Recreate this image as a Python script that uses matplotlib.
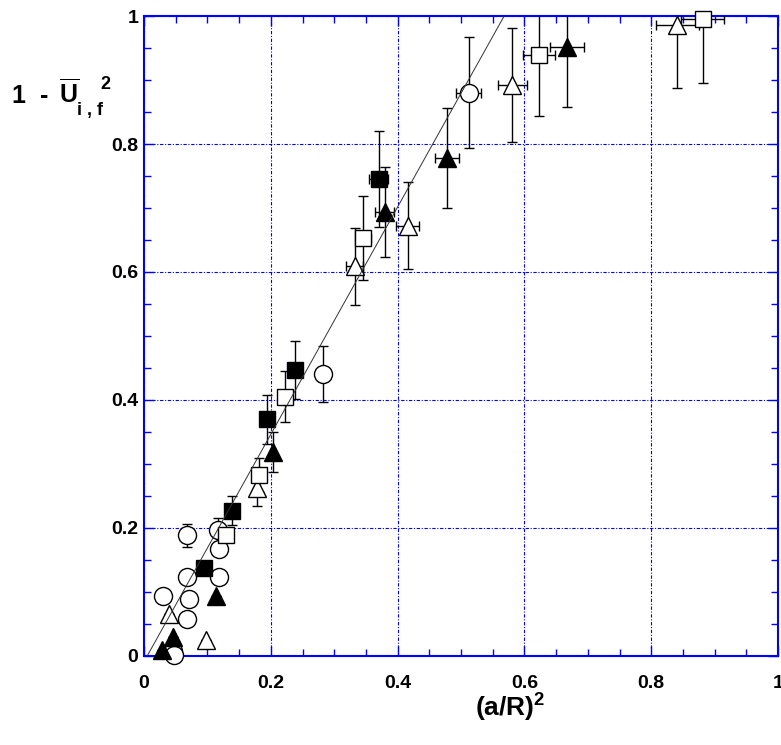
import numpy as np
import matplotlib
matplotlib.use('Agg')
import matplotlib.pyplot as plt
from matplotlib.ticker import MultipleLocator

plt.rcParams['font.family'] = 'Liberation Sans'
plt.rcParams['font.weight'] = 'bold'
plt.rcParams['mathtext.fontset'] = 'custom'
plt.rcParams['mathtext.rm'] = 'Liberation Sans:bold'
plt.rcParams['mathtext.it'] = 'Liberation Sans:bold'
plt.rcParams['mathtext.bf'] = 'Liberation Sans:bold'

# --- data ---
# open circles
oc_x = [0.030, 0.068, 0.117, 0.118, 0.068, 0.118, 0.071, 0.068, 0.045, 0.047, 0.282, 0.512]
oc_y = [0.094, 0.189, 0.197, 0.167, 0.123, 0.123, 0.089, 0.058, 0.008, 0.002, 0.441, 0.880]
oc_yerr = [0, 0.018, 0.019, 0, 0, 0, 0, 0, 0, 0, 0.044, 0.087]
oc_xerr = [0, 0, 0, 0, 0, 0, 0, 0, 0, 0, 0, 0.020]

# open triangles
ot_x = [0.040, 0.098, 0.178, 0.332, 0.416, 0.581, 0.841]
ot_y = [0.066, 0.025, 0.262, 0.609, 0.672, 0.892, 0.986]
ot_yerr = [0, 0, 0.027, 0.060, 0.068, 0.089, 0.098]
ot_xerr = [0, 0, 0, 0.014, 0.018, 0.023, 0.034]

# filled triangles
ft_x = [0.028, 0.046, 0.113, 0.204, 0.380, 0.478, 0.667]
ft_y = [0.009, 0.030, 0.093, 0.319, 0.694, 0.778, 0.952]
ft_yerr = [0, 0, 0, 0.031, 0.070, 0.078, 0.094]
ft_xerr = [0, 0, 0, 0, 0.015, 0.019, 0.027]

# open squares
os_x = [0.130, 0.181, 0.222, 0.346, 0.623, 0.881]
os_y = [0.189, 0.283, 0.405, 0.653, 0.939, 0.995]
os_yerr = [0.010, 0.027, 0.040, 0.065, 0.095, 0.100]
os_xerr = [0, 0, 0, 0.012, 0.026, 0.034]

# filled squares
fs_x = [0.095, 0.139, 0.194, 0.238, 0.370]
fs_y = [0.138, 0.227, 0.370, 0.447, 0.745]
fs_yerr = [0.008, 0.023, 0.038, 0.045, 0.075]
fs_xerr = [0, 0, 0, 0, 0.015]

# linear fit line
fit_x = [0.005, 0.568]
fit_y = [0.0, 1.0]

tick_vals = [0, 0.2, 0.4, 0.6, 0.8, 1]
tick_labels = ['0', '0.2', '0.4', '0.6', '0.8', '1']

fig = plt.figure(figsize=(7.81, 7.45), dpi=100)
ax = fig.add_axes([0.1844, 0.1195, 0.8118, 0.859])

blue = '#0000ff'
ax.grid(True, which='major', color=blue, linestyle=(0, (3, 1.5, 1, 1.5)), linewidth=0.8)
ax.set_axisbelow(True)

series = [
    (oc_x, oc_y, oc_xerr, oc_yerr, 'o', 'white', 13),
    (ot_x, ot_y, ot_xerr, ot_yerr, '^', 'white', 13),
    (ft_x, ft_y, ft_xerr, ft_yerr, '^', 'black', 13),
    (os_x, os_y, os_xerr, os_yerr, 's', 'white', 11),
    (fs_x, fs_y, fs_xerr, fs_yerr, 's', 'black', 11),
]
for x, y, xe, ye, m, fc, ms in series:
    line, caps, bars = ax.errorbar(x, y, xerr=xe, yerr=ye, fmt=m, ms=ms,
                                   mfc=fc, mec='black', mew=1.0,
                                   ecolor='black', elinewidth=1.0,
                                   capsize=3.5, capthick=1.0, zorder=3)
    line.set_clip_on(False)

ax.plot(fit_x, fit_y, color='#333333', linewidth=0.7, zorder=4)

ax.set_xlim(0, 1)
ax.set_ylim(0, 1)
ax.set_xticks(tick_vals)
ax.set_xticklabels(tick_labels)
ax.set_yticks(tick_vals)
ax.set_yticklabels(tick_labels)
ax.xaxis.set_minor_locator(MultipleLocator(0.05))
ax.yaxis.set_minor_locator(MultipleLocator(0.05))
ax.tick_params(which='both', direction='in', top=True, right=True, color=blue)
ax.tick_params(which='major', length=7, width=1, labelsize=14)
ax.tick_params(which='minor', length=5, width=1)
ax.tick_params(axis='x', which='major', pad=14)
ax.tick_params(axis='y', which='major', pad=4)
for lab in ax.get_xticklabels() + ax.get_yticklabels():
    lab.set_fontweight('bold')
for sp in ax.spines.values():
    sp.set_color(blue)
    sp.set_linewidth(1.5)

# axis labels
fig.text(0.653, 0.050, r'$(a/R)^2$', fontsize=19, ha='center', va='center')
# y label built from pieces: "1 - U(bar)", subscript "i , f", superscript "2"
fig.text(0.016, 0.862, '1  -', fontsize=18, ha='left', va='baseline', fontweight='bold')
fig.text(0.076, 0.862, r'$\overline{U}$', fontsize=18, ha='left', va='baseline')
fig.text(0.098, 0.845, 'i , f', fontsize=13, ha='left', va='baseline', fontweight='bold')
fig.text(0.128, 0.880, '2', fontsize=13, ha='left', va='baseline', fontweight='bold')

fig.savefig('out.png', dpi=100)
